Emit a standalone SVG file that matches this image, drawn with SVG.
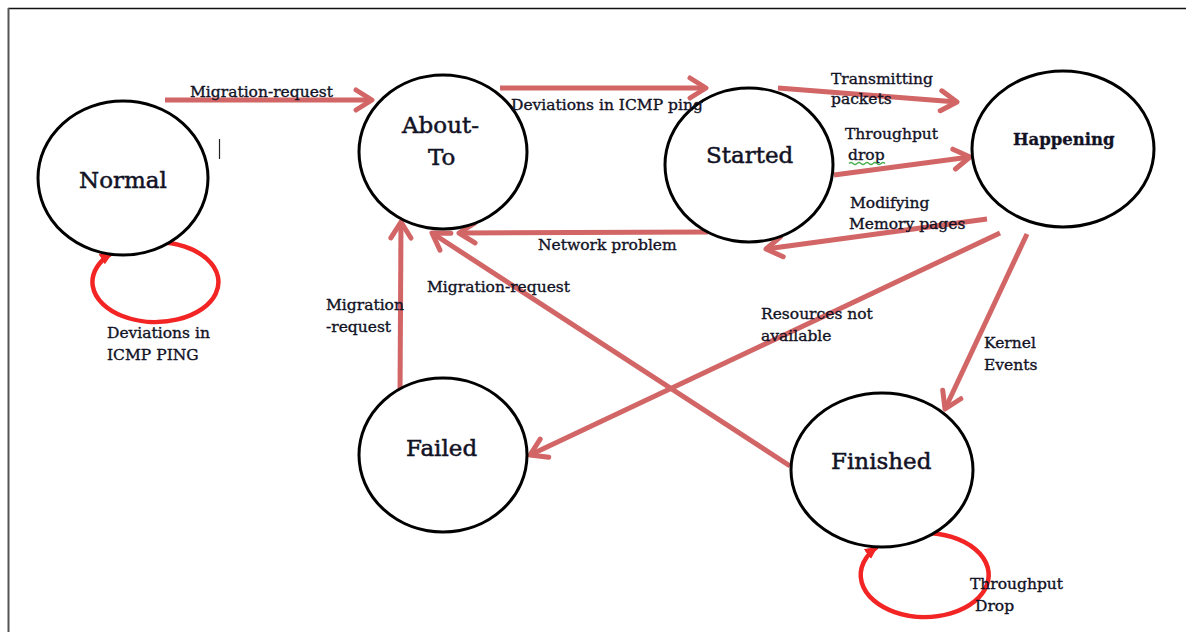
<svg xmlns="http://www.w3.org/2000/svg" width="1186" height="632" viewBox="0 0 1186 632">
  <defs>
    <style>
      .state { fill: #ffffff; stroke: #000000; stroke-width: 3; }
      .name { font-family: "DejaVu Serif", "Liberation Serif", serif; font-size: 23px; fill: #121225; stroke: #121225; stroke-width: 0.5; }
      .bold { font-weight: bold; font-size: 16.5px; stroke-width: 0.3; }
      .lbl { font-family: "DejaVu Serif", "Liberation Serif", serif; font-size: 15.5px; fill: #121225; stroke: #121225; stroke-width: 0.35; }
      .edge { fill: none; stroke: #d26565; stroke-width: 5; marker-end: url(#chev); }
      .loop { fill: none; stroke: #f22424; stroke-width: 4.5; marker-end: url(#tri); }
    </style>
    <marker id="chev" viewBox="0 0 22 26" refX="19" refY="13" markerWidth="22" markerHeight="26" markerUnits="userSpaceOnUse" orient="auto">
      <path d="M3,3 L19,13 L3,23" fill="none" stroke="#d26565" stroke-width="5" stroke-linecap="round" stroke-linejoin="round"/>
    </marker>
    <marker id="tri" viewBox="0 0 14 14" refX="12" refY="7" markerWidth="14" markerHeight="14" markerUnits="userSpaceOnUse" orient="auto">
      <path d="M0,1 L13,7 L0,13 Z" fill="#f22424"/>
    </marker>
  </defs>

  <rect x="0" y="0" width="1186" height="632" fill="#ffffff"/>
  <!-- page frame -->
  <line x1="8" y1="8.5" x2="1186" y2="8.5" stroke="#111" stroke-width="1.5"/>
  <line x1="8.5" y1="8" x2="8.5" y2="632" stroke="#555" stroke-width="2"/>
  <!-- text cursor -->
  <line x1="219.5" y1="139" x2="219.5" y2="159" stroke="#222" stroke-width="1.2"/>

  <g id="connectors">
    <path class="edge" d="M165,100 L372,100"/>
    <path class="edge" d="M500,88 L706,88"/>
    <path class="edge" d="M778,88 L957,102"/>
    <path class="edge" d="M834,175 L970,157"/>
    <path class="edge" d="M987,219 L766,249"/>
    <path class="edge" d="M708,232 L459,233"/>
    <path class="edge" d="M400,398 L401,222"/>
    <path class="edge" d="M790,466 L432,233"/>
    <path class="edge" d="M1000,233 L530,455"/>
    <path class="edge" d="M1027,234 L945,409"/>
    <path class="loop" d="M158,242 A63,40 0 1,1 112,253"/>
    <path class="loop" d="M925,533 A64,42 0 1,1 877,547"/>
  </g>

  <g id="node-normal">
    <ellipse class="state" cx="123" cy="178" rx="85" ry="77"/>
    <text class="name" x="79" y="188">Normal</text>
  </g>
  <g id="node-about-to">
    <ellipse class="state" cx="443" cy="152" rx="84" ry="77"/>
    <text class="name" x="402" y="133">About-</text>
    <text class="name" x="428" y="165">To</text>
  </g>
  <g id="node-started">
    <ellipse class="state" cx="749" cy="165" rx="84" ry="77"/>
    <text class="name" x="706" y="163">Started</text>
  </g>
  <g id="node-happening">
    <ellipse class="state" cx="1063" cy="149" rx="91" ry="78"/>
    <text class="name bold" x="1013" y="145">Happening</text>
  </g>
  <g id="node-failed">
    <ellipse class="state" cx="443" cy="455" rx="84" ry="77"/>
    <text class="name" x="406" y="456">Failed</text>
  </g>
  <g id="node-finished">
    <ellipse class="state" cx="882" cy="470" rx="91" ry="77"/>
    <text class="name" x="831" y="469">Finished</text>
  </g>

  <g id="labels">
    <text class="lbl" x="190" y="97">Migration-request</text>
    <text class="lbl" x="511" y="110">Deviations in ICMP ping</text>
    <text class="lbl" x="831" y="84">Transmitting</text>
    <text class="lbl" x="831" y="104">packets</text>
    <text class="lbl" x="845" y="139">Throughput</text>
    <text class="lbl" x="848" y="160">drop</text>
    <path d="M849,163.5 q2,-2 4,0 t4,0 t4,0 t4,0 t4,0 t4,0 t4,0 t4,0 t4,0" fill="none" stroke="#4caf50" stroke-width="1.2"/>
    <text class="lbl" x="850" y="208">Modifying</text>
    <text class="lbl" x="849" y="229">Memory pages</text>
    <text class="lbl" x="538" y="250">Network problem</text>
    <text class="lbl" x="427" y="292">Migration-request</text>
    <text class="lbl" x="326" y="310">Migration</text>
    <text class="lbl" x="326" y="332">-request</text>
    <text class="lbl" x="761" y="319">Resources not</text>
    <text class="lbl" x="761" y="341">available</text>
    <text class="lbl" x="984" y="348">Kernel</text>
    <text class="lbl" x="984" y="370">Events</text>
    <text class="lbl" x="107" y="338">Deviations in</text>
    <text class="lbl" x="107" y="360">ICMP PING</text>
    <text class="lbl" x="970" y="589">Throughput</text>
    <text class="lbl" x="975" y="611">Drop</text>
  </g>
</svg>
